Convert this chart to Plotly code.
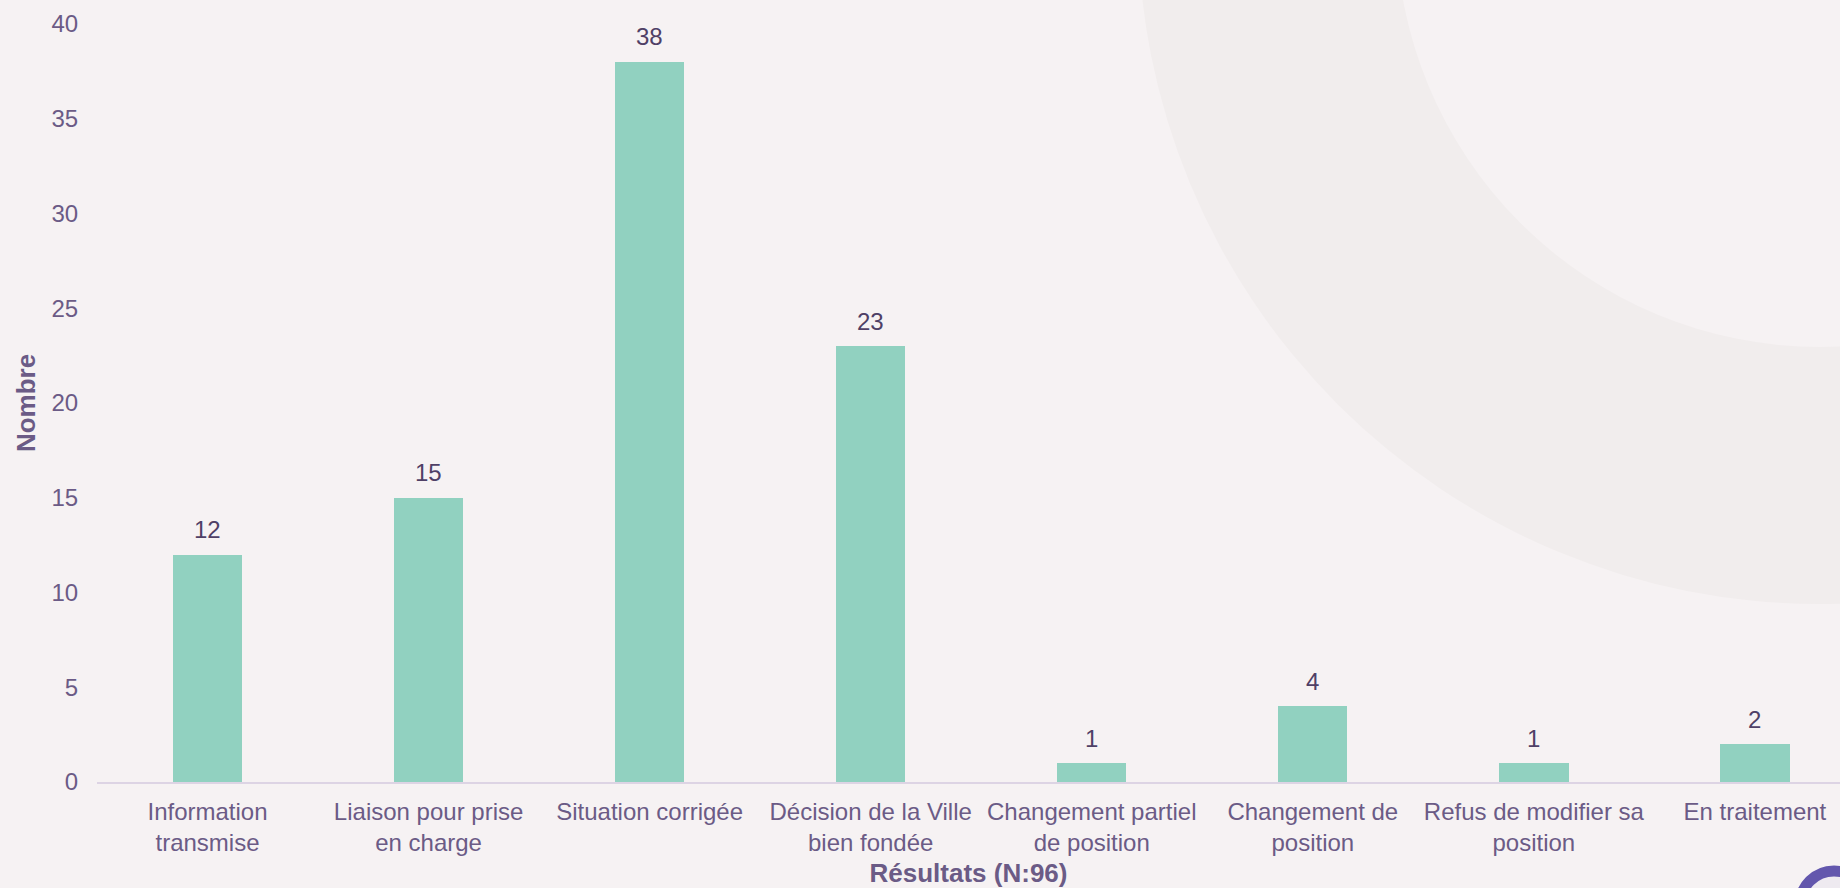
import plotly.graph_objects as go

categories = [
    "Information<br>transmise",
    "Liaison pour prise<br>en charge",
    "Situation corrigée",
    "Décision de la Ville<br>bien fondée",
    "Changement partiel<br>de position",
    "Changement de<br>position",
    "Refus de modifier sa<br>position",
    "En traitement",
]
values = [12, 15, 38, 23, 1, 4, 1, 2]
y_ticks = [0, 5, 10, 15, 20, 25, 30, 35, 40]

W, H = 1840, 888
ML, MR, MT, MB = 97, 0, 24, 106
PW, PH = W - ML - MR, H - MT - MB

BG = "#f6f2f3"
RING = "#f1eded"
BAR = "#91d1c0"
TXT = "#6b5b86"
LBL = "#4f4066"
FONT = "Arial, Liberation Sans, sans-serif"


def px(x):
    return (x - ML) / PW


def py(y):
    return (H - MB - y) / PH


x_idx = list(range(len(categories)))

fig = go.Figure()
fig.add_trace(go.Bar(
    x=x_idx, y=values, width=0.314,
    marker=dict(color=BAR, line=dict(width=0)),
    hoverinfo="skip",
))

annotations = []
for i, v in zip(x_idx, values):
    annotations.append(dict(
        x=i, y=v, xref="x", yref="y", text=str(v), showarrow=False,
        yanchor="middle", yshift=25, font=dict(size=24, color=LBL, family=FONT),
    ))

shapes = [
    # decorative background rings
    dict(type="circle", xref="paper", yref="paper", layer="below",
         x0=px(1138), x1=px(2502), y0=py(604), y1=py(-759),
         fillcolor=RING, line=dict(width=0)),
    dict(type="circle", xref="paper", yref="paper", layer="below",
         x0=px(1396), x1=px(2244), y0=py(347), y1=py(-501),
         fillcolor=BG, line=dict(width=0)),
    # logo ring at bottom right
    dict(type="circle", xref="paper", yref="paper", layer="above",
         x0=px(1800), x1=px(1868), y0=py(939), y1=py(871),
         fillcolor="#eeeaf0", line=dict(width=11, color="#6357ad")),
]

fig.update_layout(
    width=W, height=H,
    margin=dict(l=ML, r=MR, t=MT, b=MB, pad=0),
    paper_bgcolor=BG, plot_bgcolor="rgba(0,0,0,0)",
    font=dict(family=FONT, size=24, color=TXT),
    showlegend=False,
    bargap=0,
    annotations=annotations,
    shapes=shapes,
    xaxis=dict(
        range=[-0.5, 7.385],
        tickmode="array", tickvals=x_idx, ticktext=categories,
        showgrid=False, zeroline=False,
        showline=True, linecolor="#ddd4e4", linewidth=2,
        ticks="outside", ticklen=7, tickcolor="rgba(0,0,0,0)", tickangle=0,
        tickfont=dict(size=24, color=TXT, family=FONT),
        title=dict(text="<b>Résultats (N:96)</b>", standoff=9,
                   font=dict(size=26, color=TXT, family=FONT)),
    ),
    yaxis=dict(
        range=[0, 40],
        tickmode="array", tickvals=y_ticks,
        showgrid=False, zeroline=False, showline=False,
        ticks="outside", ticklen=13, tickcolor="rgba(0,0,0,0)",
        tickfont=dict(size=24, color=TXT, family=FONT),
        title=dict(text="<b>Nombre</b>", standoff=8,
                   font=dict(size=26, color=TXT, family=FONT)),
    ),
)

fig.write_html(
    "out.html",
    config={"displayModeBar": False},
    post_script="document.body.style.margin='0';document.body.style.overflow='hidden';",
)
